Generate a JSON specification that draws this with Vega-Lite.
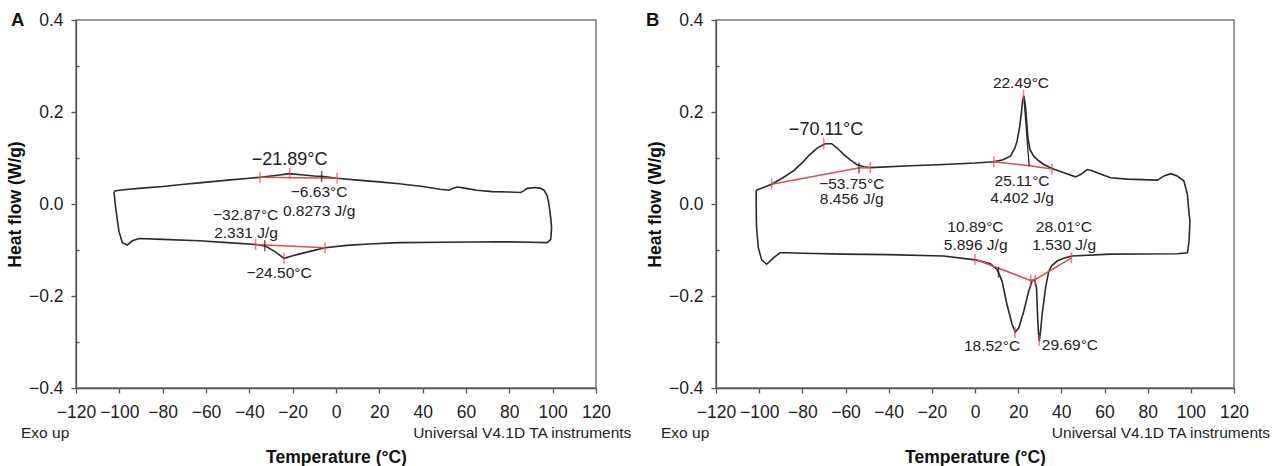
{
  "$schema": "https://vega.github.io/schema/vega-lite/v6.json",
  "padding": {"left": 5, "top": 10, "right": 5, "bottom": 5},
  "spacing": 11,
  "config": {
    "font": "Liberation Sans",
    "view": {"stroke": "#777", "strokeWidth": 1.5},
    "axis": {
      "domainColor": "#555", "domainWidth": 1.3, "tickColor": "#555", "tickWidth": 1.3,
      "labelFont": "Liberation Sans", "labelFontSize": 17.5, "labelColor": "#222",
      "titleFont": "Liberation Sans", "titleFontSize": 17.5, "titleFontWeight": "bold", "titleColor": "#111",
      "grid": false, "labelOverlap": false, "labelFlush": false, "labelBound": false
    },
    "text": {"font": "Liberation Sans", "color": "#222"}
  },
  "datasets": {
    "curveA": [
      {"i":0,"t":-102.5,"hf":0.027},{"i":1,"t":-101.6,"hf":0.029},{"i":2,"t":-98,"hf":0.031},{"i":3,"t":-90.9,"hf":0.034},
      {"i":4,"t":-80,"hf":0.038},{"i":5,"t":-70,"hf":0.043},{"i":6,"t":-63.2,"hf":0.046},{"i":7,"t":-50,"hf":0.052},
      {"i":8,"t":-40,"hf":0.056},{"i":9,"t":-35.1,"hf":0.058},{"i":10,"t":-28,"hf":0.062},{"i":11,"t":-21.4,"hf":0.066},
      {"i":12,"t":-15,"hf":0.063},{"i":13,"t":-10,"hf":0.061},{"i":14,"t":-6.6,"hf":0.06},{"i":15,"t":0.5,"hf":0.056},
      {"i":16,"t":10,"hf":0.052},{"i":17,"t":20,"hf":0.048},{"i":18,"t":29.1,"hf":0.044},{"i":19,"t":40,"hf":0.038},
      {"i":20,"t":48,"hf":0.032},{"i":21,"t":52.2,"hf":0.03},{"i":22,"t":54,"hf":0.034},{"i":23,"t":56,"hf":0.037},
      {"i":24,"t":59.9,"hf":0.034},{"i":25,"t":65,"hf":0.03},{"i":26,"t":72.1,"hf":0.027},{"i":27,"t":80,"hf":0.026},
      {"i":28,"t":85.2,"hf":0.025},{"i":29,"t":86.8,"hf":0.029},{"i":30,"t":88.3,"hf":0.034},{"i":31,"t":92.1,"hf":0.036},
      {"i":32,"t":94.5,"hf":0.034},{"i":33,"t":96,"hf":0.03},{"i":34,"t":97.5,"hf":0.018},{"i":35,"t":98.3,"hf":-0.001},
      {"i":36,"t":99.1,"hf":-0.03},{"i":37,"t":99.5,"hf":-0.051},{"i":38,"t":99.3,"hf":-0.065},{"i":39,"t":99.1,"hf":-0.077},
      {"i":40,"t":97.5,"hf":-0.084},{"i":41,"t":90,"hf":-0.083},{"i":42,"t":75.2,"hf":-0.082},{"i":43,"t":50,"hf":-0.083},
      {"i":44,"t":29.1,"hf":-0.084},{"i":45,"t":15,"hf":-0.087},{"i":46,"t":5,"hf":-0.09},{"i":47,"t":-5.1,"hf":-0.095},
      {"i":48,"t":-12,"hf":-0.103},{"i":49,"t":-18,"hf":-0.11},{"i":50,"t":-24,"hf":-0.118},{"i":51,"t":-28,"hf":-0.104},
      {"i":52,"t":-32.4,"hf":-0.092},{"i":53,"t":-37.1,"hf":-0.088},{"i":54,"t":-50,"hf":-0.084},{"i":55,"t":-63.2,"hf":-0.08},
      {"i":56,"t":-80,"hf":-0.077},{"i":57,"t":-90.9,"hf":-0.075},{"i":58,"t":-94,"hf":-0.08},{"i":59,"t":-96.3,"hf":-0.089},
      {"i":60,"t":-98.6,"hf":-0.084},{"i":61,"t":-100.2,"hf":-0.059},{"i":62,"t":-101.7,"hf":-0.008},{"i":63,"t":-102.5,"hf":0.027}
    ],
    "curveB": [
      {"i":0,"t":-101.4,"hf":0.03},{"i":1,"t":-98,"hf":0.036},{"i":2,"t":-94.2,"hf":0.043},{"i":3,"t":-89,"hf":0.057},
      {"i":4,"t":-84.1,"hf":0.072},{"i":5,"t":-80,"hf":0.09},{"i":6,"t":-76.4,"hf":0.108},{"i":7,"t":-73,"hf":0.122},
      {"i":8,"t":-69.4,"hf":0.131},{"i":9,"t":-66.4,"hf":0.131},{"i":10,"t":-63.5,"hf":0.12},{"i":11,"t":-60.9,"hf":0.108},
      {"i":12,"t":-57.5,"hf":0.095},{"i":13,"t":-54.8,"hf":0.086},{"i":14,"t":-51.5,"hf":0.081},{"i":15,"t":-48.5,"hf":0.079},
      {"i":16,"t":-30,"hf":0.083},{"i":17,"t":-14.5,"hf":0.086},{"i":18,"t":0,"hf":0.089},{"i":19,"t":8.7,"hf":0.092},
      {"i":20,"t":13,"hf":0.096},{"i":21,"t":16.4,"hf":0.104},{"i":22,"t":18.5,"hf":0.122},{"i":23,"t":19.5,"hf":0.137},
      {"i":24,"t":20.6,"hf":0.165},{"i":25,"t":21.4,"hf":0.195},{"i":26,"t":22,"hf":0.222},{"i":27,"t":22.6,"hf":0.235},
      {"i":28,"t":23.2,"hf":0.22},{"i":29,"t":23.7,"hf":0.195},{"i":30,"t":24.5,"hf":0.144},{"i":31,"t":25.5,"hf":0.118},
      {"i":32,"t":27.2,"hf":0.104},{"i":33,"t":29.5,"hf":0.094},{"i":34,"t":31.9,"hf":0.086},{"i":35,"t":35.7,"hf":0.077},
      {"i":36,"t":41.2,"hf":0.068},{"i":37,"t":46.6,"hf":0.059},{"i":38,"t":48.9,"hf":0.064},{"i":39,"t":52,"hf":0.075},
      {"i":40,"t":54,"hf":0.073},{"i":41,"t":56.6,"hf":0.068},{"i":42,"t":62.8,"hf":0.057},{"i":43,"t":70.5,"hf":0.054},
      {"i":44,"t":84.5,"hf":0.052},{"i":45,"t":87.6,"hf":0.061},{"i":46,"t":90.7,"hf":0.066},{"i":47,"t":93.7,"hf":0.061},
      {"i":48,"t":96.8,"hf":0.05},{"i":49,"t":98.4,"hf":0.021},{"i":50,"t":99.2,"hf":-0.022},{"i":51,"t":99.6,"hf":-0.037},
      {"i":52,"t":99.2,"hf":-0.08},{"i":53,"t":98.4,"hf":-0.106},{"i":54,"t":93.7,"hf":-0.108},{"i":55,"t":62.8,"hf":-0.109},
      {"i":56,"t":45,"hf":-0.113},{"i":57,"t":41,"hf":-0.118},{"i":58,"t":38.1,"hf":-0.124},{"i":59,"t":35.5,"hf":-0.134},
      {"i":60,"t":34.2,"hf":-0.146},{"i":61,"t":32.7,"hf":-0.182},{"i":62,"t":31.1,"hf":-0.24},{"i":63,"t":30.4,"hf":-0.275},
      {"i":64,"t":29.8,"hf":-0.298},{"i":65,"t":29.4,"hf":-0.28},{"i":66,"t":29.1,"hf":-0.254},{"i":67,"t":28.5,"hf":-0.182},
      {"i":68,"t":27.6,"hf":-0.164},{"i":69,"t":26.5,"hf":-0.167},{"i":70,"t":24.9,"hf":-0.189},{"i":71,"t":22.6,"hf":-0.233},
      {"i":72,"t":20.3,"hf":-0.269},{"i":73,"t":18.7,"hf":-0.278},{"i":74,"t":17.2,"hf":-0.262},{"i":75,"t":14.8,"hf":-0.218},
      {"i":76,"t":12.5,"hf":-0.167},{"i":77,"t":10.2,"hf":-0.142},{"i":78,"t":7.1,"hf":-0.13},{"i":79,"t":0.9,"hf":-0.122},
      {"i":80,"t":-14.5,"hf":-0.113},{"i":81,"t":-40,"hf":-0.11},{"i":82,"t":-60.9,"hf":-0.109},{"i":83,"t":-80,"hf":-0.107},
      {"i":84,"t":-87.2,"hf":-0.106},{"i":85,"t":-90.3,"hf":-0.106},{"i":86,"t":-93.4,"hf":-0.117},{"i":87,"t":-96.5,"hf":-0.131},
      {"i":88,"t":-98.8,"hf":-0.122},{"i":89,"t":-100.4,"hf":-0.095},{"i":90,"t":-101.2,"hf":-0.051},{"i":91,"t":-101.3,"hf":-0.037},
      {"i":92,"t":-101.4,"hf":0.03}
    ],
    "baseA": [
      {"seg":"u","i":0,"t":-35.1,"hf":0.058},{"seg":"u","i":1,"t":0.5,"hf":0.056},
      {"seg":"l","i":0,"t":-37.1,"hf":-0.088},{"seg":"l","i":1,"t":-5.1,"hf":-0.095}
    ],
    "baseB": [
      {"seg":"u1","i":0,"t":-94.2,"hf":0.043},{"seg":"u1","i":1,"t":-54,"hf":0.078},{"seg":"u1","i":2,"t":-48.5,"hf":0.079},
      {"seg":"u2","i":0,"t":8.7,"hf":0.092},{"seg":"u2","i":1,"t":25.4,"hf":0.083},{"seg":"u2","i":2,"t":35.7,"hf":0.076},
      {"seg":"l","i":0,"t":0,"hf":-0.12},{"seg":"l","i":1,"t":25.7,"hf":-0.166},{"seg":"l","i":2,"t":28,"hf":-0.164},{"seg":"l","i":3,"t":44.7,"hf":-0.117}
    ],
    "spikeB": [
      {"i":0,"t":22.7,"hf":0.228},{"i":1,"t":25.11,"hf":0.082}
    ],
    "redTickA": [
      {"t":-35.1,"hf":0.058},{"t":-21.4,"hf":0.067},{"t":0.5,"hf":0.056},
      {"t":-37.1,"hf":-0.088},{"t":-5.1,"hf":-0.095},{"t":-24,"hf":-0.118}
    ],
    "blackTickA": [
      {"t":-6.63,"hf":0.06},{"t":-32.87,"hf":-0.091}
    ],
    "redTickB": [
      {"t":-94.2,"hf":0.043},{"t":-70.1,"hf":0.131},{"t":-48.5,"hf":0.079},
      {"t":8.7,"hf":0.092},{"t":22.5,"hf":0.236},{"t":35.7,"hf":0.076},
      {"t":0,"hf":-0.12},{"t":25.8,"hf":-0.166},{"t":27.9,"hf":-0.165},{"t":44.7,"hf":-0.117},
      {"t":18.5,"hf":-0.279},{"t":29.7,"hf":-0.296}
    ],
    "blackTickB": [
      {"t":-53.75,"hf":0.078},{"t":10.89,"hf":-0.148}
    ],
    "bigLabA": [
      {"label":"−21.89°C","t":-21.4,"hf":0.095}
    ],
    "smallLabA": [
      {"label":"−6.63°C","t":-7.8,"hf":0.027},
      {"label":"0.8273 J/g","t":-7.8,"hf":-0.015},
      {"label":"−32.87°C","t":-41.7,"hf":-0.024},
      {"label":"2.331 J/g","t":-41.5,"hf":-0.062},
      {"label":"−24.50°C","t":-26.3,"hf":-0.149}
    ],
    "bigLabB": [
      {"label":"−70.11°C","t":-69,"hf":0.16}
    ],
    "smallLabB": [
      {"label":"−53.75°C","t":-57.1,"hf":0.044},
      {"label":"8.456 J/g","t":-57.1,"hf":0.01},
      {"label":"22.49°C","t":21.3,"hf":0.264},
      {"label":"25.11°C","t":21.8,"hf":0.05},
      {"label":"4.402 J/g","t":21.8,"hf":0.014},
      {"label":"10.89°C","t":0.2,"hf":-0.051},
      {"label":"5.896 J/g","t":0.3,"hf":-0.089},
      {"label":"28.01°C","t":41.2,"hf":-0.051},
      {"label":"1.530 J/g","t":41.3,"hf":-0.089},
      {"label":"18.52°C","t":7.9,"hf":-0.309},
      {"label":"29.69°C","t":44,"hf":-0.307}
    ]
  },
  "hconcat": [
    {
      "width": 520, "height": 368,
      "layer": [
        {
          "data": {"name": "curveA"},
          "mark": {"type": "line", "color": "#2a2a2a", "strokeWidth": 1.6},
          "encoding": {
            "x": {"field": "t", "type": "quantitative", "title": "Temperature (°C)",
              "scale": {"domain": [-120, 120], "nice": false, "zero": false},
              "axis": {"values": [-120,-110,-100,-90,-80,-70,-60,-50,-40,-30,-20,-10,0,10,20,30,40,50,60,70,80,90,100,110,120],
                "labelExpr": "datum.value % 20 === 0 ? datum.label : ''",
                "tickSize": {"condition": {"test": "datum.value % 20 === 0", "value": 5}, "value": -3},
                "labelPadding": 10, "titlePadding": 28}},
            "y": {"field": "hf", "type": "quantitative", "title": "Heat flow (W/g)",
              "scale": {"domain": [-0.4, 0.4], "nice": false, "zero": false},
              "axis": {"values": [-0.4,-0.35,-0.3,-0.25,-0.2,-0.15,-0.1,-0.05,0,0.05,0.1,0.15,0.2,0.25,0.3,0.35,0.4],
                "format": ".1f",
                "labelExpr": "abs(round(datum.value*20)) % 4 === 0 ? datum.label : ''",
                "tickSize": {"condition": {"test": "abs(round(datum.value*20)) % 4 === 0", "value": 5}, "value": -3},
                "labelPadding": 8, "titlePadding": 4}},
            "order": {"field": "i", "type": "quantitative"}
          }
        },
        {
          "data": {"name": "baseA"},
          "mark": {"type": "line", "color": "#e5484f", "strokeWidth": 1.5},
          "encoding": {
            "x": {"field": "t", "type": "quantitative"},
            "y": {"field": "hf", "type": "quantitative"},
            "detail": {"field": "seg"},
            "order": {"field": "i", "type": "quantitative"}
          }
        },
        {
          "data": {"name": "redTickA"},
          "mark": {"type": "tick", "orient": "vertical", "color": "#e5484f", "size": 11, "thickness": 1.5},
          "encoding": {"x": {"field": "t", "type": "quantitative"}, "y": {"field": "hf", "type": "quantitative"}}
        },
        {
          "data": {"name": "blackTickA"},
          "mark": {"type": "tick", "orient": "vertical", "color": "#222", "size": 11, "thickness": 1.5},
          "encoding": {"x": {"field": "t", "type": "quantitative"}, "y": {"field": "hf", "type": "quantitative"}}
        },
        {
          "data": {"name": "bigLabA"},
          "mark": {"type": "text", "fontSize": 18, "align": "center", "baseline": "middle"},
          "encoding": {"x": {"field": "t", "type": "quantitative"}, "y": {"field": "hf", "type": "quantitative"}, "text": {"field": "label"}}
        },
        {
          "data": {"name": "smallLabA"},
          "mark": {"type": "text", "fontSize": 15.5, "align": "center", "baseline": "middle"},
          "encoding": {"x": {"field": "t", "type": "quantitative"}, "y": {"field": "hf", "type": "quantitative"}, "text": {"field": "label"}}
        },
        {
          "data": {"values": [{}]},
          "mark": {"type": "text", "fontSize": 18.5, "fontWeight": "bold", "align": "left", "baseline": "middle", "dx": -65, "color": "#111"},
          "encoding": {"x": {"datum": -120}, "y": {"datum": 0.4}, "text": {"value": "A"}}
        },
        {
          "data": {"values": [{}]},
          "mark": {"type": "text", "fontSize": 15.5, "align": "left", "baseline": "middle", "dx": -55, "dy": 45},
          "encoding": {"x": {"datum": -120}, "y": {"datum": -0.4}, "text": {"value": "Exo up"}}
        },
        {
          "data": {"values": [{}]},
          "mark": {"type": "text", "fontSize": 15.5, "align": "left", "baseline": "middle", "dy": 45},
          "encoding": {"x": {"datum": 35.6}, "y": {"datum": -0.4}, "text": {"value": "Universal V4.1D TA instruments"}}
        }
      ]
    },
    {
      "width": 518, "height": 368,
      "layer": [
        {
          "data": {"name": "curveB"},
          "mark": {"type": "line", "color": "#2a2a2a", "strokeWidth": 1.6},
          "encoding": {
            "x": {"field": "t", "type": "quantitative", "title": "Temperature (°C)",
              "scale": {"domain": [-120, 120], "nice": false, "zero": false},
              "axis": {"values": [-120,-110,-100,-90,-80,-70,-60,-50,-40,-30,-20,-10,0,10,20,30,40,50,60,70,80,90,100,110,120],
                "labelExpr": "datum.value % 20 === 0 ? datum.label : ''",
                "tickSize": {"condition": {"test": "datum.value % 20 === 0", "value": 5}, "value": -3},
                "labelPadding": 10, "titlePadding": 28}},
            "y": {"field": "hf", "type": "quantitative", "title": "Heat flow (W/g)",
              "scale": {"domain": [-0.4, 0.4], "nice": false, "zero": false},
              "axis": {"values": [-0.4,-0.35,-0.3,-0.25,-0.2,-0.15,-0.1,-0.05,0,0.05,0.1,0.15,0.2,0.25,0.3,0.35,0.4],
                "format": ".1f",
                "labelExpr": "abs(round(datum.value*20)) % 4 === 0 ? datum.label : ''",
                "tickSize": {"condition": {"test": "abs(round(datum.value*20)) % 4 === 0", "value": 5}, "value": -3},
                "labelPadding": 8, "titlePadding": 4}},
            "order": {"field": "i", "type": "quantitative"}
          }
        },
        {
          "data": {"name": "baseB"},
          "mark": {"type": "line", "color": "#e5484f", "strokeWidth": 1.5},
          "encoding": {
            "x": {"field": "t", "type": "quantitative"},
            "y": {"field": "hf", "type": "quantitative"},
            "detail": {"field": "seg"},
            "order": {"field": "i", "type": "quantitative"}
          }
        },
        {
          "data": {"name": "spikeB"},
          "mark": {"type": "line", "color": "#2a2a2a", "strokeWidth": 1.3},
          "encoding": {
            "x": {"field": "t", "type": "quantitative"},
            "y": {"field": "hf", "type": "quantitative"},
            "order": {"field": "i", "type": "quantitative"}
          }
        },
        {
          "data": {"name": "redTickB"},
          "mark": {"type": "tick", "orient": "vertical", "color": "#e5484f", "size": 11, "thickness": 1.5},
          "encoding": {"x": {"field": "t", "type": "quantitative"}, "y": {"field": "hf", "type": "quantitative"}}
        },
        {
          "data": {"name": "blackTickB"},
          "mark": {"type": "tick", "orient": "vertical", "color": "#222", "size": 11, "thickness": 1.5},
          "encoding": {"x": {"field": "t", "type": "quantitative"}, "y": {"field": "hf", "type": "quantitative"}}
        },
        {
          "data": {"name": "bigLabB"},
          "mark": {"type": "text", "fontSize": 18, "align": "center", "baseline": "middle"},
          "encoding": {"x": {"field": "t", "type": "quantitative"}, "y": {"field": "hf", "type": "quantitative"}, "text": {"field": "label"}}
        },
        {
          "data": {"name": "smallLabB"},
          "mark": {"type": "text", "fontSize": 15.5, "align": "center", "baseline": "middle"},
          "encoding": {"x": {"field": "t", "type": "quantitative"}, "y": {"field": "hf", "type": "quantitative"}, "text": {"field": "label"}}
        },
        {
          "data": {"values": [{}]},
          "mark": {"type": "text", "fontSize": 18.5, "fontWeight": "bold", "align": "left", "baseline": "middle", "dx": -70, "color": "#111"},
          "encoding": {"x": {"datum": -120}, "y": {"datum": 0.4}, "text": {"value": "B"}}
        },
        {
          "data": {"values": [{}]},
          "mark": {"type": "text", "fontSize": 15.5, "align": "left", "baseline": "middle", "dx": -55, "dy": 45},
          "encoding": {"x": {"datum": -120}, "y": {"datum": -0.4}, "text": {"value": "Exo up"}}
        },
        {
          "data": {"values": [{}]},
          "mark": {"type": "text", "fontSize": 15.5, "align": "left", "baseline": "middle", "dy": 45},
          "encoding": {"x": {"datum": 35.6}, "y": {"datum": -0.4}, "text": {"value": "Universal V4.1D TA instruments"}}
        }
      ]
    }
  ]
}
